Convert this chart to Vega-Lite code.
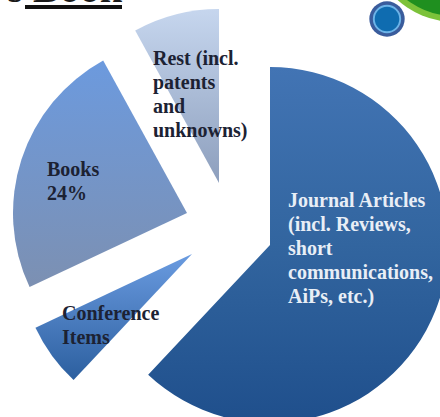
{"$schema":"https://vega.github.io/schema/vega-lite/v6.json","width":440,"height":417,"autosize":{"type":"fit","contains":"padding"},"padding":0,"background":"#ffffff","config":{"view":{"stroke":null}},
"data":{"values":[{"category":"Journal Articles","label":"Journal Articles|(incl. Reviews,|short|communications,|AiPs, etc.)","share":62},{"category":"Conference Items","label":"Conference|Items","share":6},{"category":"Books","label":"Books|24%","share":24},{"category":"Rest","label":"Rest (incl.|patents|and|unknowns)","share":8}]},
"transform":[{"stack":"share","groupby":[],"as":["start","end"]}],
"layer":[
{"transform":[{"filter":"datum.category==='Journal Articles'"}],"mark":{"type":"arc","outerRadius":178,"clip":true,"fill":{"gradient":"linear","x1":0,"y1":0,"x2":0,"y2":1,"stops":[{"offset":0,"color":"#4274b4"},{"offset":0.5,"color":"#32659f"},{"offset":1,"color":"#1f4f8c"}]}},"encoding":{"theta":{"field":"start","type":"quantitative","scale":{"domain":[0,100],"range":[0,6.2832]}},"theta2":{"field":"end"},"x":{"datum":270,"type":"quantitative","scale":{"domain":[0,440],"range":[0,440]},"axis":null},"y":{"datum":245,"type":"quantitative","scale":{"domain":[0,417],"range":[0,417]},"axis":null}}},
{"transform":[{"filter":"datum.category==='Conference Items'"}],"mark":{"type":"arc","outerRadius":173,"clip":true,"fill":{"gradient":"linear","x1":0,"y1":0,"x2":0,"y2":1,"stops":[{"offset":0,"color":"#6a9be0"},{"offset":1,"color":"#2c5f9f"}]}},"encoding":{"theta":{"field":"start","type":"quantitative","scale":{"domain":[0,100],"range":[0,6.2832]}},"theta2":{"field":"end"},"x":{"datum":192,"type":"quantitative","scale":{"domain":[0,440],"range":[0,440]},"axis":null},"y":{"datum":254,"type":"quantitative","scale":{"domain":[0,417],"range":[0,417]},"axis":null}}},
{"transform":[{"filter":"datum.category==='Books'"}],"mark":{"type":"arc","outerRadius":174,"clip":true,"fill":{"gradient":"linear","x1":0,"y1":0,"x2":0,"y2":1,"stops":[{"offset":0,"color":"#6c9ade"},{"offset":1,"color":"#7c90b2"}]}},"encoding":{"theta":{"field":"start","type":"quantitative","scale":{"domain":[0,100],"range":[0,6.2832]}},"theta2":{"field":"end"},"x":{"datum":187,"type":"quantitative","scale":{"domain":[0,440],"range":[0,440]},"axis":null},"y":{"datum":213,"type":"quantitative","scale":{"domain":[0,417],"range":[0,417]},"axis":null}}},
{"transform":[{"filter":"datum.category==='Rest'"}],"mark":{"type":"arc","outerRadius":174,"clip":true,"fill":{"gradient":"linear","x1":0,"y1":0,"x2":0,"y2":1,"stops":[{"offset":0,"color":"#c6d6ee"},{"offset":1,"color":"#8d9fbd"}]}},"encoding":{"theta":{"field":"start","type":"quantitative","scale":{"domain":[0,100],"range":[0,6.2832]}},"theta2":{"field":"end"},"x":{"datum":219,"type":"quantitative","scale":{"domain":[0,440],"range":[0,440]},"axis":null},"y":{"datum":183,"type":"quantitative","scale":{"domain":[0,417],"range":[0,417]},"axis":null}}},
{"transform":[{"filter":"datum.category==='Journal Articles'"}],"mark":{"type":"text","font":"Liberation Serif","fontWeight":"bold","fontSize":20,"lineBreak":"|","lineHeight":24,"align":"left","baseline":"top","color":"#e8eef6","clip":true},"encoding":{"text":{"field":"label"},"x":{"datum":288,"type":"quantitative","scale":{"domain":[0,440],"range":[0,440]},"axis":null},"y":{"datum":191,"type":"quantitative","scale":{"domain":[0,417],"range":[0,417]},"axis":null}}},
{"transform":[{"filter":"datum.category==='Rest'"}],"mark":{"type":"text","font":"Liberation Serif","fontWeight":"bold","fontSize":20,"lineBreak":"|","lineHeight":24,"align":"left","baseline":"top","color":"#1c2233","clip":true},"encoding":{"text":{"field":"label"},"x":{"datum":153,"type":"quantitative","scale":{"domain":[0,440],"range":[0,440]},"axis":null},"y":{"datum":49,"type":"quantitative","scale":{"domain":[0,417],"range":[0,417]},"axis":null}}},
{"transform":[{"filter":"datum.category==='Books'"}],"mark":{"type":"text","font":"Liberation Serif","fontWeight":"bold","fontSize":20,"lineBreak":"|","lineHeight":24,"align":"left","baseline":"top","color":"#1c2233","clip":true},"encoding":{"text":{"field":"label"},"x":{"datum":47,"type":"quantitative","scale":{"domain":[0,440],"range":[0,440]},"axis":null},"y":{"datum":160,"type":"quantitative","scale":{"domain":[0,417],"range":[0,417]},"axis":null}}},
{"transform":[{"filter":"datum.category==='Conference Items'"}],"mark":{"type":"text","font":"Liberation Serif","fontWeight":"bold","fontSize":20,"lineBreak":"|","lineHeight":24,"align":"left","baseline":"top","color":"#1c2233","clip":true},"encoding":{"text":{"field":"label"},"x":{"datum":62,"type":"quantitative","scale":{"domain":[0,440],"range":[0,440]},"axis":null},"y":{"datum":304,"type":"quantitative","scale":{"domain":[0,417],"range":[0,417]},"axis":null}}},
{"data":{"values":[{"note":"s Book"}]},"transform":[],"mark":{"type":"text","font":"Liberation Serif","fontWeight":"bold","fontSize":40,"align":"right","baseline":"alphabetic","color":"#1a1a1a","clip":true},"encoding":{"text":{"field":"note"},"x":{"datum":122,"type":"quantitative","scale":{"domain":[0,440],"range":[0,440]},"axis":null},"y":{"datum":2,"type":"quantitative","scale":{"domain":[0,417],"range":[0,417]},"axis":null}}},
{"data":{"values":[{"note":"underline"}]},"transform":[],"mark":{"type":"rule","color":"#111111","strokeWidth":4,"clip":true},"encoding":{"x":{"datum":25,"type":"quantitative","scale":{"domain":[0,440],"range":[0,440]},"axis":null},"x2":{"datum":122},"y":{"datum":7,"type":"quantitative","scale":{"domain":[0,417],"range":[0,417]},"axis":null}}},
{"data":{"values":[{"note":"green disc outer"}]},"transform":[],"mark":{"type":"point","shape":"circle","filled":true,"opacity":1,"color":"#7cc23a","size":29584,"clip":true},"encoding":{"x":{"datum":455,"type":"quantitative","scale":{"domain":[0,440],"range":[0,440]},"axis":null},"y":{"datum":-64,"type":"quantitative","scale":{"domain":[0,417],"range":[0,417]},"axis":null}}},
{"data":{"values":[{"note":"green disc inner"}]},"transform":[],"mark":{"type":"point","shape":"circle","filled":true,"opacity":1,"color":"#1f8f1f","size":25600,"clip":true},"encoding":{"x":{"datum":455,"type":"quantitative","scale":{"domain":[0,440],"range":[0,440]},"axis":null},"y":{"datum":-64,"type":"quantitative","scale":{"domain":[0,417],"range":[0,417]},"axis":null}}},
{"data":{"values":[{"note":"blue disc outer"}]},"transform":[],"mark":{"type":"point","shape":"circle","filled":true,"opacity":1,"color":"#3a5c9c","size":1250,"clip":true},"encoding":{"x":{"datum":387,"type":"quantitative","scale":{"domain":[0,440],"range":[0,440]},"axis":null},"y":{"datum":19,"type":"quantitative","scale":{"domain":[0,417],"range":[0,417]},"axis":null}}},
{"data":{"values":[{"note":"blue disc ring"}]},"transform":[],"mark":{"type":"point","shape":"circle","filled":true,"opacity":1,"color":"#6db4e8","size":800,"clip":true},"encoding":{"x":{"datum":387,"type":"quantitative","scale":{"domain":[0,440],"range":[0,440]},"axis":null},"y":{"datum":19,"type":"quantitative","scale":{"domain":[0,417],"range":[0,417]},"axis":null}}},
{"data":{"values":[{"note":"blue disc inner"}]},"transform":[],"mark":{"type":"point","shape":"circle","filled":true,"opacity":1,"color":"#0f6cb0","size":600,"clip":true},"encoding":{"x":{"datum":387,"type":"quantitative","scale":{"domain":[0,440],"range":[0,440]},"axis":null},"y":{"datum":19,"type":"quantitative","scale":{"domain":[0,417],"range":[0,417]},"axis":null}}}
]}
